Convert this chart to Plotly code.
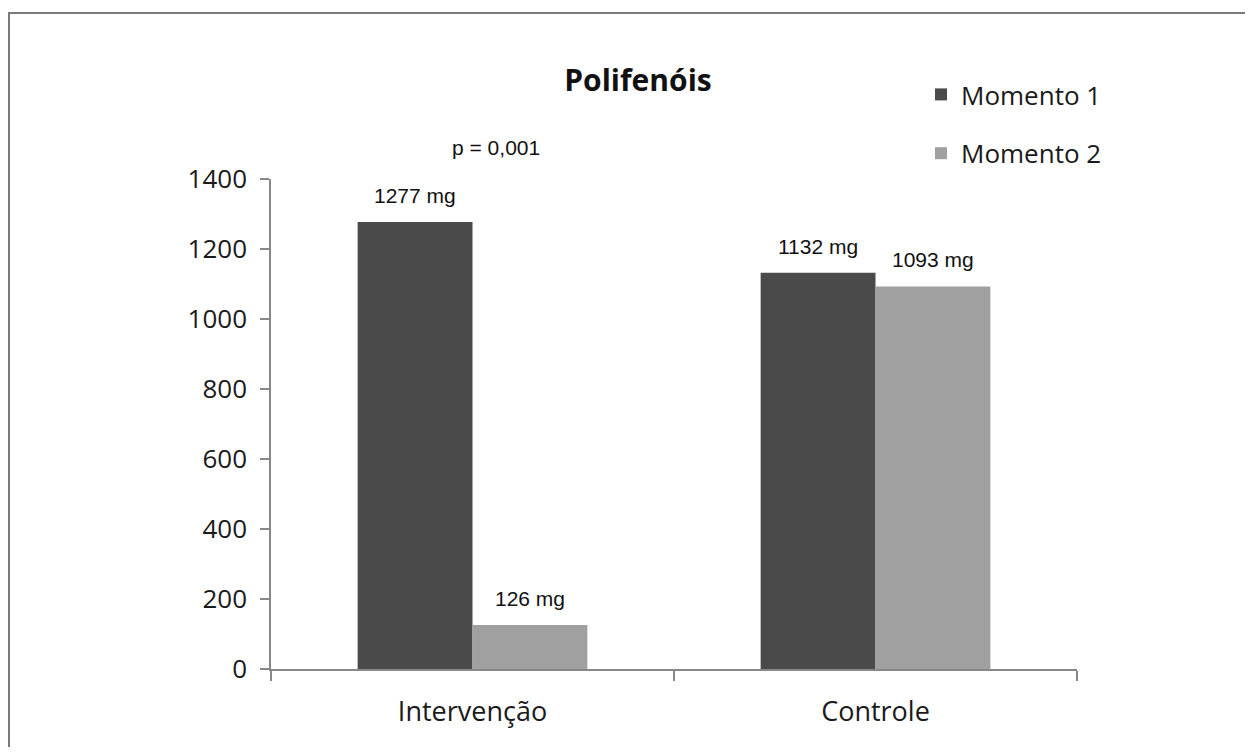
import plotly.graph_objects as go

categories = ["Intervenção", "Controle"]
series_names = ["Momento 1", "Momento 2"]
momento1 = [1277, 1132]
momento2 = [126, 1093]
labels1 = ["1277 mg", "1132 mg"]
labels2 = ["126 mg", "1093 mg"]
colors = ["#4a4a4a", "#a0a0a0"]
y_ticks = [0, 200, 400, 600, 800, 1000, 1200, 1400]

OFF = 8  # page body margin
W, H = 1253 - 2 * OFF, 755 - 2 * OFF
L = 271 - OFF
T = 179 - OFF
R = W - (1077 - OFF)
B = H - (669 - OFF)
plot_w = W - L - R
plot_h = H - T - B
cat_w = plot_w / len(categories)
bargap = 0.43
bar_w = cat_w * (1 - bargap) / 2


def px_x(x):
    return (x - OFF - L) / plot_w


def px_y(y):
    return (H - B - (y - OFF)) / plot_h


fig = go.Figure()
for i, (name, vals) in enumerate(zip(series_names, [momento1, momento2])):
    fig.add_trace(go.Bar(
        x=categories, y=vals, name=name,
        marker=dict(color=colors[i], line=dict(width=0)),
        legendgroup=name,
    ))

for i, (vals, labs) in enumerate(zip([momento1, momento2], [labels1, labels2])):
    shift = (i - 0.5) * bar_w
    for c, v, t in zip(categories, vals, labs):
        fig.add_annotation(x=c, y=v, text=t, showarrow=False, xshift=shift,
                           yanchor="bottom", yshift=13,
                           font=dict(family="Liberation Sans, Arial", size=21, color="#111"))

fig.add_annotation(xref="paper", yref="paper", x=px_x(496), y=px_y(148),
                   text="p = 0,001", showarrow=False, xanchor="center", yanchor="middle",
                   font=dict(family="Liberation Sans, Arial", size=21, color="#111"))

# outer border
fig.add_shape(type="rect", xref="paper", yref="paper",
              x0=px_x(9), x1=px_x(1253 + 30),
              y0=px_y(755 + 30), y1=px_y(13),
              line=dict(color="#7a7a7a", width=2), layer="below")

fig.update_layout(
    width=W, height=H,
    margin=dict(l=L, r=R, t=T, b=B),
    paper_bgcolor="white", plot_bgcolor="white",
    barmode="group", bargap=bargap, bargroupgap=0,
    font=dict(family="Open Sans", size=26, color="#1a1a1a"),
    title=dict(text="<b>Polifenóis</b>", x=(638 - OFF) / W, xanchor="center",
               y=1 - (80 - OFF) / H, yanchor="middle", yref="container",
               font=dict(family="Open Sans", size=30, color="#111")),
    legend=dict(x=px_x(921), xanchor="left", y=px_y(71), yanchor="top",
                tracegroupgap=22, font=dict(family="Open Sans", size=26, color="#1a1a1a"),
                bgcolor="rgba(0,0,0,0)"),
    showlegend=True,
)
fig.update_xaxes(showline=True, linecolor="#888", linewidth=1.5, ticks="outside",
                 tickson="boundaries", ticklen=10, tickcolor="#888", tickwidth=1.5,
                 showgrid=False, tickfont=dict(size=27), ticklabelstandoff=18)
fig.update_yaxes(range=[0, 1400], tickvals=y_ticks, showline=True, linecolor="#888",
                 linewidth=1.5, ticks="outside", ticklen=9, tickcolor="#888", tickwidth=1.5,
                 showgrid=False, zeroline=False, tickfont=dict(size=26), ticklabelstandoff=8)

fig.write_html("out.html")
